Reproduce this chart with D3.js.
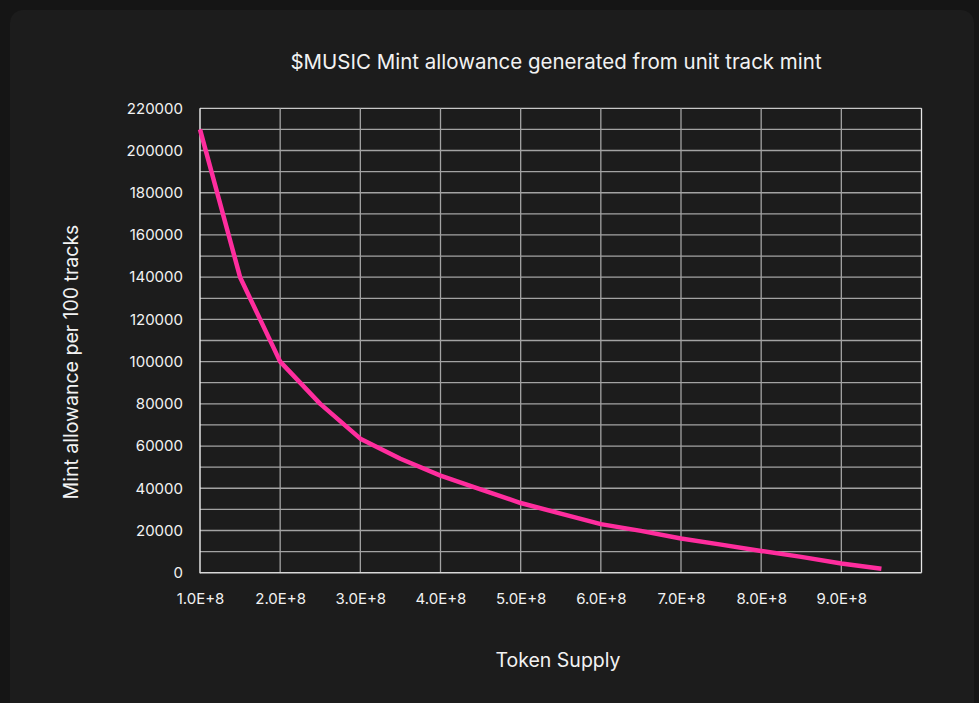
<!DOCTYPE html>
<html>
<head>
<meta charset="utf-8">
<script src="https://cdn.jsdelivr.net/npm/d3@7"></script>
<style>
  html, body { margin: 0; padding: 0; background: #151515; }
  svg { display: block; }
  text { font-family: Inter, "Open Sans", sans-serif; fill: #f2f2f2; }
</style>
</head>
<body>
<svg id="chart" width="979" height="703"></svg>
<script>
const title = "$MUSIC Mint allowance generated from unit track mint";
const xLabel = "Token Supply";
const yLabel = "Mint allowance per 100 tracks";
const supply = [1.0e8, 1.5e8, 2.0e8, 2.5e8, 3.0e8, 3.5e8, 4.0e8, 4.5e8, 5.0e8, 5.5e8, 6.0e8, 6.5e8, 7.0e8, 7.5e8, 8.0e8, 8.5e8, 9.0e8, 9.5e8];
const allowance = [210000, 140000, 100000, 80000, 63500, 54000, 46000, 39500, 33000, 28000, 23000, 19800, 16200, 13300, 10300, 7500, 4400, 1900];
const xTicks = [1e8, 2e8, 3e8, 4e8, 5e8, 6e8, 7e8, 8e8, 9e8];
const xTickLabels = ["1.0E+8", "2.0E+8", "3.0E+8", "4.0E+8", "5.0E+8", "6.0E+8", "7.0E+8", "8.0E+8", "9.0E+8"];
const yTicks = [0, 20000, 40000, 60000, 80000, 100000, 120000, 140000, 160000, 180000, 200000, 220000];

const svg = d3.select("#chart");
svg.append("rect").attr("x", 0).attr("y", 0).attr("width", 979).attr("height", 703).attr("fill", "#151515");
svg.append("rect").attr("x", 10).attr("y", 10).attr("width", 964).attr("height", 710).attr("rx", 13).attr("fill", "#1c1c1c");

const L = 200, R = 921.5, T = 108.3, B = 572.7;
const x = d3.scaleLinear().domain([1e8, 10e8]).range([L, R]);
const y = d3.scaleLinear().domain([0, 220000]).range([B, T]);

const g = svg.append("g");
g.selectAll("line.h").data(d3.range(10000, 220001, 10000)).join("line")
  .attr("x1", L).attr("x2", R).attr("y1", d => y(d)).attr("y2", d => y(d))
  .attr("stroke", d => d === 220000 ? "#c8c8c8" : "#a3a3a3").attr("stroke-width", 1.3);
g.selectAll("line.v").data(d3.range(2e8, 10.01e8, 1e8)).join("line")
  .attr("y1", T).attr("y2", B).attr("x1", d => x(d)).attr("x2", d => x(d))
  .attr("stroke", d => d >= 10e8 - 1 ? "#e6e6e6" : "#a3a3a3").attr("stroke-width", 1.3);
g.append("line").attr("x1", L).attr("x2", L).attr("y1", T).attr("y2", B + 0.6).attr("stroke", "#f0f0f0").attr("stroke-width", 1.4);
g.append("line").attr("x1", L).attr("x2", R).attr("y1", B).attr("y2", B).attr("stroke", "#d8d8d8").attr("stroke-width", 1.4);

const yAxis = d3.axisLeft(y).tickValues(yTicks).tickSize(0).tickPadding(17).tickFormat(d3.format("d"));
const ya = svg.append("g").attr("transform", `translate(${L},0)`).call(yAxis);
ya.select(".domain").remove();
ya.selectAll("text").style("font-size", "15px").style("fill", "#f2f2f2").style("font-family", "Inter, 'Open Sans', sans-serif");

const xAxis = d3.axisBottom(x).tickValues(xTicks).tickSize(0).tickPadding(21).tickFormat((d, i) => xTickLabels[i]);
const xa = svg.append("g").attr("transform", `translate(0,${B})`).call(xAxis);
xa.select(".domain").remove();
xa.selectAll("text").style("font-size", "15px").style("fill", "#f2f2f2").style("font-family", "Inter, 'Open Sans', sans-serif");

const line = d3.line().x((d, i) => x(supply[i])).y(d => y(d));
svg.append("path").datum(allowance).attr("d", line)
  .attr("fill", "none").attr("stroke", "#ff2d9e").attr("stroke-width", 4.5)
  .attr("stroke-linejoin", "round");

svg.append("text").attr("x", 556).attr("y", 69).attr("text-anchor", "middle")
  .style("font-size", "20.5px").text(title);
svg.append("text").attr("x", 558).attr("y", 667).attr("text-anchor", "middle")
  .style("font-size", "19.5px").text(xLabel);
svg.append("text").attr("transform", "translate(78,362) rotate(-90)").attr("text-anchor", "middle")
  .style("font-size", "19.5px").text(yLabel);
</script>
</body>
</html>
